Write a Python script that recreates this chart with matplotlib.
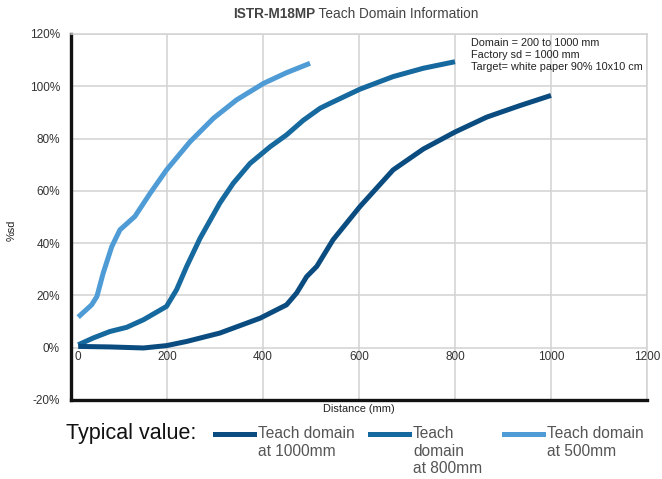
import numpy as np
import matplotlib as mpl
mpl.use('Agg')
import matplotlib.pyplot as plt
import matplotlib.transforms as mtransforms
from matplotlib.lines import Line2D

mpl.rcParams.update({'font.family': 'Liberation Sans', 'font.size': 8.5})

# --- data (distance mm, %sd) ---
x_500 = [15, 43, 54, 67, 85, 102, 133, 165, 199, 248, 297, 345, 401, 449, 498]
y_500 = [11.7, 16.4, 19.6, 28.5, 38.7, 45.1, 50.2, 59.1, 68.0, 78.8, 87.8, 94.8, 101.1, 105.2, 108.8]

x_800 = [15, 46, 81, 116, 151, 199, 220, 241, 269, 310, 338, 373, 415, 449, 484, 519,
         540, 602, 671, 734, 800]
y_800 = [1.1, 3.7, 6.2, 7.8, 10.7, 15.8, 22.2, 31.1, 41.9, 55.3, 62.9, 70.5, 76.9, 81.4,
         87.0, 91.6, 93.5, 98.9, 103.7, 106.9, 109.4]

x_1000 = [15, 81, 151, 199, 241, 310, 394, 449, 470, 491, 512, 546, 602, 671, 734, 800,
          866, 935, 1000]
y_1000 = [0.5, 0.3, -0.1, 0.8, 2.4, 5.6, 11.3, 16.4, 20.9, 27.2, 31.1, 41.3, 54.0, 68.0,
          76.0, 82.5, 88.2, 92.6, 96.5]

x_ticks = [0, 200, 400, 600, 800, 1000, 1200]
y_ticks = [-20, 0, 20, 40, 60, 80, 100, 120]

series = [
    (x_1000, y_1000, '#0b4c80', 'Teach domain\nat 1000mm'),
    (x_800, y_800, '#16699e', 'Teach\ndomain\nat 800mm'),
    (x_500, y_500, '#4e9bd6', 'Teach domain\nat 500mm'),
]

fig = plt.figure(figsize=(6.62, 4.79), dpi=100)
ax = fig.add_axes([71/662, 1-400/479, 576/662, 366/479])

for xs, ys, col, lab in series[::-1]:
    ax.plot(xs, ys, color=col, lw=3.6, solid_capstyle='butt',
            solid_joinstyle='round', zorder=3)

ax.set_xlim(0, 1200)
ax.set_ylim(-20, 120)
ax.set_xticks(x_ticks)
ax.set_yticks(y_ticks)
ax.set_yticklabels([f'{v}%' for v in y_ticks])
ax.grid(True, color='#d2d2d2', lw=1.1, zorder=0)
ax.tick_params(length=0, labelbottom=False, labelsize=8.5, labelcolor='#333333', pad=8)
for s in ('top', 'right'):
    ax.spines[s].set_color('#d2d2d2')
    ax.spines[s].set_linewidth(1.1)
for s in ('left', 'bottom'):
    ax.spines[s].set_color('#111111')
    ax.spines[s].set_linewidth(2.4)

# x tick labels sit just below the 0% line
tr = mtransforms.blended_transform_factory(ax.transData, ax.transData)
for v in x_ticks:
    off = mtransforms.ScaledTranslation(7/100 if v == 0 else 0, -3/100, fig.dpi_scale_trans)
    ax.text(v, 0, str(v), transform=tr + off, ha='center', va='top',
            fontsize=8.5, color='#333333', zorder=4)

ax.set_xlabel('Distance (mm)', fontsize=7.9, color='#222222', labelpad=3)
fig.text(12/662, 1-230/479, '%sd', rotation=90, ha='center', va='center',
         fontsize=7.9, color='#222222')

ax.text(0.695, 0.988, 'Domain = 200 to 1000 mm\nFactory sd = 1000 mm\n'
        'Target= white paper 90% 10x10 cm', transform=ax.transAxes,
        ha='left', va='top', fontsize=7.8, linespacing=1.25, color='#222222')

# title: bold model name + regular text
t1 = fig.text(0.5, 1-14/479, 'ISTR-M18MP', fontsize=9.8, fontweight='bold',
              color='#444444', ha='left', va='center')
fig.canvas.draw()
r = fig.canvas.get_renderer()
w1 = t1.get_window_extent(r).width
t2 = fig.text(0, 1-14/479, ' Teach Domain Information', fontsize=9.8,
              color='#444444', ha='left', va='center')
w2 = t2.get_window_extent(r).width
x0 = 356 - (w1 + w2) / 2
t1.set_x(x0 / 662)
t2.set_x((x0 + w1) / 662)

# legend drawn at the bottom
fig.text(66/662, 1-434/479, 'Typical value:', fontsize=15.5, color='#111111',
         ha='left', va='center')
leg_x = [215, 370, 504]
for (xs, ys, col, lab), lx in zip(series, leg_x):
    fig.add_artist(Line2D([lx/662, (lx+39)/662], [1-434/479, 1-434/479],
                          color=col, lw=3.6, transform=fig.transFigure))
    fig.text((lx+43)/662, 1-426/479, lab, fontsize=11.2, color='#555555',
             ha='left', va='top', linespacing=1.22)

fig.savefig('out.png', dpi=100)
